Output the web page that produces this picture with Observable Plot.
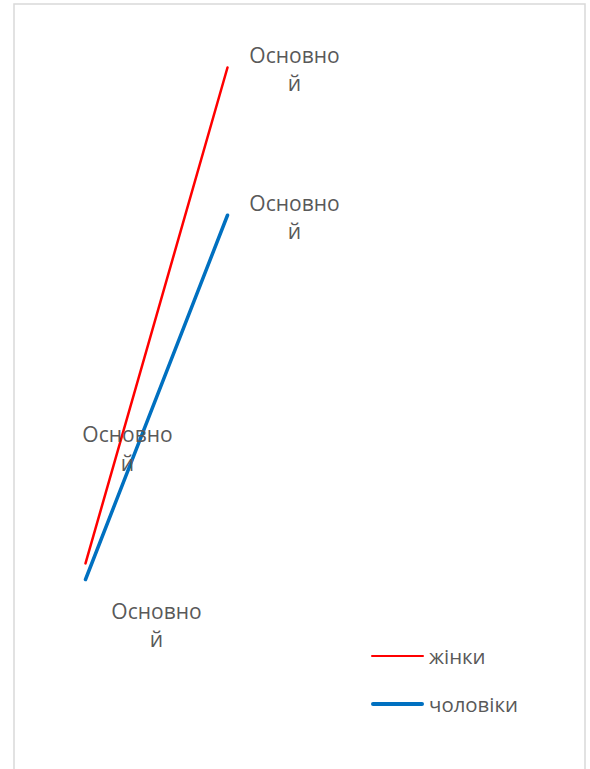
<!DOCTYPE html>
<html>
<head>
<meta charset="utf-8">
<script src="https://cdn.jsdelivr.net/npm/d3@7"></script>
<script src="https://cdn.jsdelivr.net/npm/@observablehq/plot@0.6"></script>
<style>
  html, body { margin: 0; padding: 0; background: #fff; }
  #wrap { position: relative; width: 590px; height: 769px; overflow: hidden; }
  .legend { position: absolute; left: 371px; font-family: "Open Sans", sans-serif; font-size: 20.4px; color: #595959; }
  .legend .row { position: absolute; left: 0; display: flex; align-items: center; white-space: nowrap; }
  .legend .sw { width: 53px; margin-right: 5px; border-radius: 2px; }
</style>
</head>
<body>
<div id="wrap"></div>
<script>
// Data
const points = [1, 2];
const seriesNames = ["жінки", "чоловіки"];
const womenValues = [12.2, 80];
const menValues = [10, 59.8];
const labelText = "Основно\nй";
const colors = ["#ff0000", "#0070c0"];

const women = points.map((p, i) => ({p, v: womenValues[i], s: seriesNames[0]}));
const men = points.map((p, i) => ({p, v: menValues[i], s: seriesNames[1]}));

const font = "Open Sans, sans-serif";
const textOpts = {x: "p", y: "v", text: () => labelText, fill: "#595959", fontSize: 21, lineHeight: 1.35, textAnchor: "middle", fontFamily: font};

const chart = Plot.plot({
  width: 590,
  height: 769,
  marginLeft: 85,
  marginRight: 363,
  marginTop: 67,
  marginBottom: 190,
  x: {domain: [1, 2], axis: null},
  y: {domain: [10, 80], axis: null},
  style: {fontFamily: font, background: "#fff"},
  marks: [
    Plot.line(women, {x: "p", y: "v", stroke: colors[0], strokeWidth: 2.5}),
    Plot.line(men, {x: "p", y: "v", stroke: colors[1], strokeWidth: 3.5, strokeLinecap: "round"}),
    Plot.text([women[1]], {...textOpts, dx: 67, dy: 0.5}),
    Plot.text([men[1]], {...textOpts, dx: 67, dy: 1}),
    Plot.text([women[0]], {...textOpts, dx: 42, dy: -116}),
    Plot.text([men[0]], {...textOpts, dx: 71, dy: 44.5})
  ]
});

// chart frame
const ns = "http://www.w3.org/2000/svg";
const rect = document.createElementNS(ns, "rect");
rect.setAttribute("x", 14); rect.setAttribute("y", 4);
rect.setAttribute("width", 571); rect.setAttribute("height", 800);
rect.setAttribute("fill", "none"); rect.setAttribute("stroke", "#d9d9d9"); rect.setAttribute("stroke-width", 1.5);
chart.insertBefore(rect, chart.firstChild.nextSibling);

const wrap = document.getElementById("wrap");
wrap.appendChild(chart);

// legend
const legend = document.createElement("div");
legend.className = "legend";
legend.style.top = "0px";
const rowsY = [656, 704];
seriesNames.forEach((name, i) => {
  const row = document.createElement("div");
  row.className = "row";
  row.style.top = (rowsY[i] - 15) + "px";
  row.style.height = "30px";
  const sw = document.createElement("span");
  sw.className = "sw";
  sw.style.height = (i === 0 ? 2.5 : 3.5) + "px";
  sw.style.background = colors[i];
  const t = document.createElement("span");
  t.textContent = name;
  row.appendChild(sw); row.appendChild(t);
  legend.appendChild(row);
});
wrap.appendChild(legend);
</script>
</body>
</html>
